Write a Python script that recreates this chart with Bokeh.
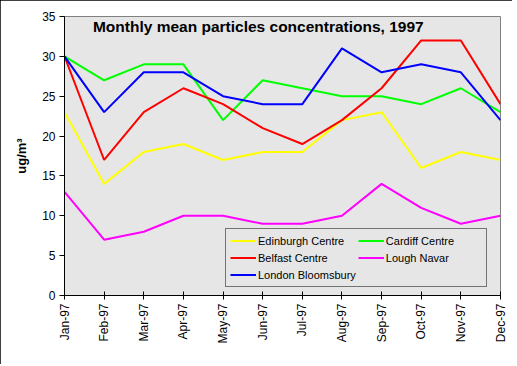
from math import pi
from bokeh.plotting import figure
from bokeh.models import Legend, LegendItem, Label, FixedTicker, Range1d
from bokeh.embed import file_html
from bokeh.resources import INLINE

months = ["Jan-97", "Feb-97", "Mar-97", "Apr-97", "May-97", "Jun-97",
          "Jul-97", "Aug-97", "Sep-97", "Oct-97", "Nov-97", "Dec-97"]
edinburgh = [23, 14, 18, 19, 17, 18, 18, 22, 23, 16, 18, 17]
cardiff = [30, 27, 29, 29, 22, 27, 26, 25, 25, 24, 26, 23]
belfast = [30, 17, 23, 26, 24, 21, 19, 22, 26, 32, 32, 24]
lough = [13, 7, 8, 10, 10, 9, 9, 10, 14, 11, 9, 10]
london = [30, 23, 28, 28, 25, 24, 24, 31, 28, 29, 28, 22]
y_ticks = [0, 5, 10, 15, 20, 25, 30, 35]

xs = list(range(len(months)))
FONT = "Liberation Sans"

p = figure(width=512, height=364, output_backend="svg", toolbar_location=None,
           x_range=Range1d(0, len(months) - 1), y_range=Range1d(0, 35),
           min_border_left=64, min_border_right=12, min_border_top=16, min_border_bottom=69)
p.styles = {"outline": "1px solid black", "outline-offset": "-1px"}
p.background_fill_color = "#E6E6E6"
p.border_fill_color = "white"
p.outline_line_color = "#808080"
p.grid.visible = False

p.xaxis.ticker = FixedTicker(ticks=xs)
p.xaxis.major_label_overrides = {i: m for i, m in enumerate(months)}
p.xaxis.major_label_orientation = pi / 2
p.xaxis.major_tick_in = 4
p.xaxis.major_tick_out = 4
p.xaxis.minor_tick_line_color = None
p.yaxis.ticker = FixedTicker(ticks=y_ticks)
p.yaxis.major_tick_in = 0
p.yaxis.major_tick_out = 5
p.yaxis.minor_tick_line_color = None
for ax in (p.xaxis, p.yaxis):
    ax.axis_line_color = "black"
    ax.major_tick_line_color = "black"
    ax.major_label_text_font = FONT
    ax.major_label_text_font_size = "12px"
    ax.major_label_text_color = "black"
p.yaxis.major_label_standoff = 4
p.xaxis.major_label_standoff = 4
p.yaxis.axis_label = "ug/m³"
p.yaxis.axis_label_text_font = FONT
p.yaxis.axis_label_text_font_style = "bold"
p.yaxis.axis_label_text_font_size = "13px"
p.yaxis.axis_label_text_color = "black"
p.yaxis.axis_label_standoff = 10

series = [("Edinburgh Centre", edinburgh, "#FFFF00"),
          ("Cardiff Centre", cardiff, "#00FF00"),
          ("Belfast Centre", belfast, "#FF0000"),
          ("Lough Navar", lough, "#FF00FF"),
          ("London Bloomsbury", london, "#0000FF")]
items = []
renderers = {}
for name, vals, col in series:
    r = p.line(xs, vals, line_color=col, line_width=2)
    renderers[name] = r
for name, vals, col in series:
    items.append(LegendItem(label=name, renderers=[renderers[name]]))

legend = Legend(items=items, location=(161, 8), orientation="horizontal", ncols=2,
                label_text_font=FONT, label_text_font_size="11px", label_text_color="black",
                glyph_width=26, glyph_height=15, label_height=15, label_width=96,
                label_standoff=2, spacing=2, padding=4, margin=0,
                border_line_color="black", border_line_width=1,
                background_fill_color="#E6E6E6", background_fill_alpha=1)
p.add_layout(legend, "center")

title = Label(x=4.89, y=33.75, text="Monthly mean particles concentrations, 1997",
              text_font=FONT, text_font_style="bold", text_font_size="15.5px",
              text_color="black", text_align="center", text_baseline="middle")
p.add_layout(title)

open("out.html", "w").write(file_html(p, INLINE))
